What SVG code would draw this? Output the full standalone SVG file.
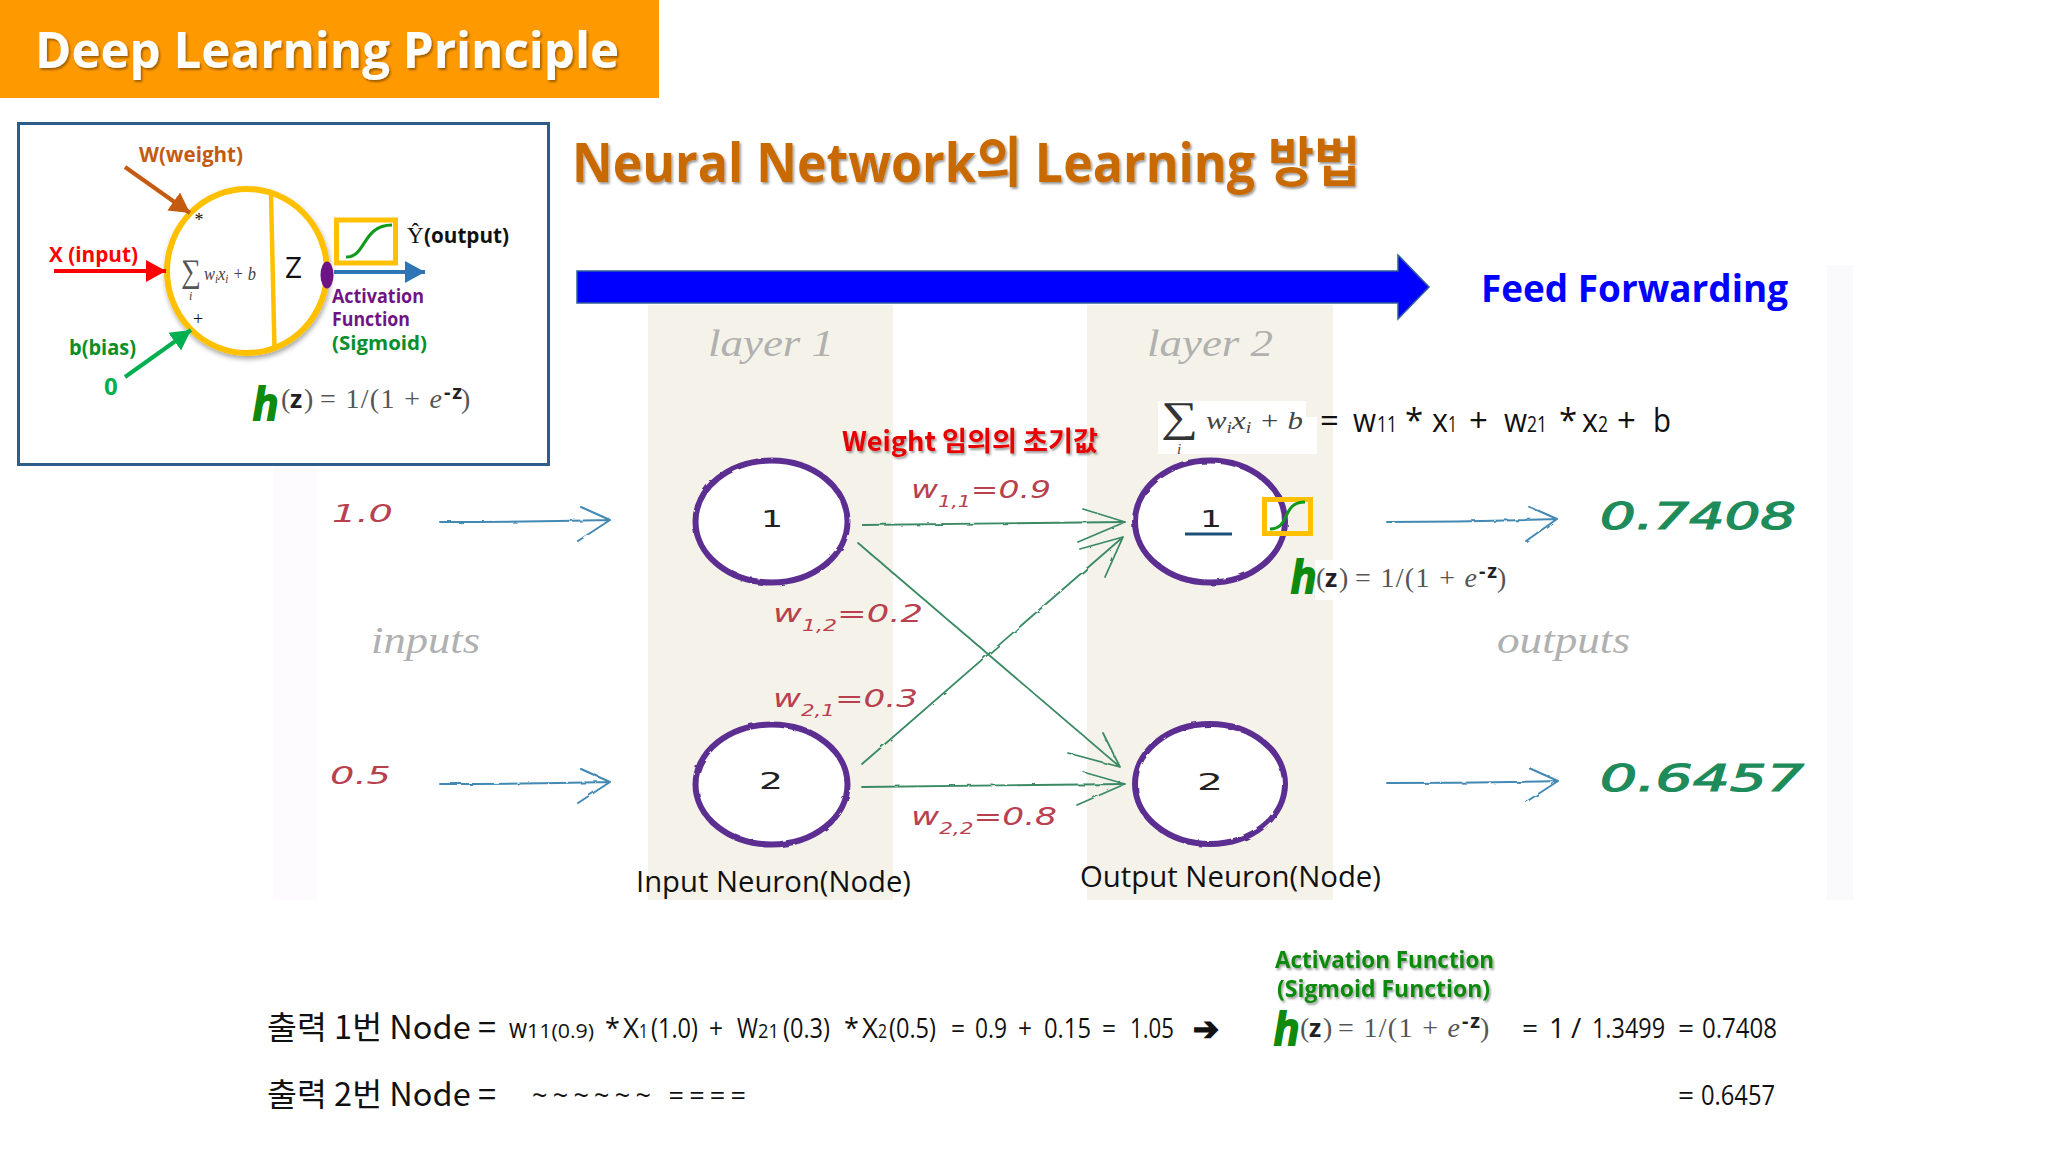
<svg xmlns="http://www.w3.org/2000/svg" width="2048" height="1152" viewBox="0 0 2048 1152">
<style>
text{font-family:"Open Sans","Noto Sans CJK KR",sans-serif;white-space:pre}
.k{font-family:"Noto Sans CJK KR","Open Sans",sans-serif}
.b{font-weight:700}
.hw{font-family:"Liberation Serif",serif;font-style:italic;fill:#b0b0b0;font-size:38px}
.wt{font-family:"DejaVu Sans",sans-serif;font-style:oblique;fill:#b8404f;font-size:24px}
.out{font-family:"DejaVu Sans",sans-serif;font-style:oblique;fill:#1e8b5a;stroke:#1e8b5a;stroke-width:1.2;font-size:38px}
.m{font-family:"Liberation Serif",serif;fill:#555}
.mi{font-family:"Liberation Serif",serif;font-style:italic;fill:#444}
.n{fill:#fff;stroke:#5b2f91;stroke-width:6}
.nl{font-family:"DejaVu Sans",sans-serif;font-size:23px;fill:#222}
.g{fill:none;stroke:#3a8a63;stroke-width:1.8;stroke-linecap:round;stroke-linejoin:round}
.bl{fill:none;stroke:#4389b3;stroke-width:2;stroke-linecap:round;stroke-linejoin:round}
.yb{fill:none;stroke:#ffc000;stroke-width:5}
.sg{fill:none;stroke:#0e9a1a;stroke-width:3}
.hh{font-family:"Liberation Sans",sans-serif;font-style:italic;font-weight:700;fill:#0e8a0e;stroke:#0e8a0e;stroke-width:2;font-size:46px}
.z{font-family:"Open Sans",sans-serif;font-weight:700;fill:#222}
.t{font-size:27px;fill:#111}
.s{font-size:20px;fill:#111}
</style>
<defs>
<filter id="sh" x="-5%" y="-10%" width="110%" height="130%"><feDropShadow dx="1.5" dy="2" stdDeviation="1.2" flood-color="#000" flood-opacity=".4"/></filter>
<filter id="cs" x="-10%" y="-10%" width="120%" height="120%"><feDropShadow dx="1" dy="3" stdDeviation="2.5" flood-color="#000" flood-opacity=".35"/></filter>
<filter id="rough" x="-5%" y="-5%" width="110%" height="110%"><feTurbulence type="fractalNoise" baseFrequency=".09" numOctaves="2" seed="3"/><feDisplacementMap in="SourceGraphic" scale="2.5"/></filter>
<marker id="aw" markerUnits="userSpaceOnUse" markerWidth="22" markerHeight="24" refX="20" refY="11" orient="auto"><path d="M0 0L20 11L0 22z" fill="#c55a11"/></marker>
<marker id="ar" markerUnits="userSpaceOnUse" markerWidth="22" markerHeight="24" refX="20" refY="11" orient="auto"><path d="M0 0L20 11L0 22z" fill="#f00"/></marker>
<marker id="ag" markerUnits="userSpaceOnUse" markerWidth="22" markerHeight="24" refX="20" refY="11" orient="auto"><path d="M0 0L20 11L0 22z" fill="#00b050"/></marker>
<marker id="ab" markerUnits="userSpaceOnUse" markerWidth="22" markerHeight="24" refX="20" refY="11" orient="auto"><path d="M0 0L20 11L0 22z" fill="#2e75b6"/></marker>
</defs>
<rect width="2048" height="1152" fill="#fff"/>
<g id="panel">
<rect x="273" y="265" width="44" height="635" fill="#fdfbfd"/>
<rect x="1827" y="265" width="26" height="635" fill="#fafafd"/>
<rect x="648" y="305" width="245" height="595" fill="#f5f3e9"/>
<rect x="1087" y="305" width="246" height="595" fill="#f5f3e9"/>
</g>
<g id="header">
<rect width="659" height="98" fill="#ff9900"/>
<text class="b" x="35" y="68" font-size="50" fill="#fff" textLength="584" lengthAdjust="spacingAndGlyphs" filter="url(#sh)">Deep Learning Principle</text>
</g>
<g id="perceptron">
<rect x="18.500" y="123.500" width="530" height="341" fill="#fff" stroke="#2f5d8a" stroke-width="3"/>
<ellipse cx="247" cy="271" rx="80" ry="82" fill="#fff" stroke="#ffc000" stroke-width="6" filter="url(#cs)"/>
<path d="M271 195L274.500 348" stroke="#ffc000" stroke-width="4.500" fill="none"/>
<text x="285" y="278" font-size="30" fill="#111" textLength="17" lengthAdjust="spacingAndGlyphs">Z</text>
<text class="m" x="199" y="226" font-size="18" text-anchor="middle" style="fill:#111">*</text>
<text class="m" x="198" y="325" font-size="18" text-anchor="middle" style="fill:#111">+</text>
<text class="m" x="181" y="282" font-size="33" textLength="20" lengthAdjust="spacingAndGlyphs">∑</text>
<text class="mi" x="189" y="300" font-size="12">i</text>
<text class="mi" x="204" y="280" font-size="18" textLength="52" lengthAdjust="spacingAndGlyphs">w<tspan font-size="12" dy="3">i</tspan><tspan dy="-3">x</tspan><tspan font-size="12" dy="3">i</tspan><tspan dy="-3"> + b</tspan></text>
<ellipse cx="327" cy="275" rx="6.500" ry="13.500" fill="#6f1484"/>
<rect class="yb" x="336.500" y="220" width="59" height="43"/>
<path class="sg" d="M346 257C366 258 362 225 392 225"/>
<text class="b" x="139" y="162" font-size="21" fill="#c55a11" textLength="104" lengthAdjust="spacingAndGlyphs">W(weight)</text>
<text class="b" x="49" y="262" font-size="21" fill="#f00" textLength="89" lengthAdjust="spacingAndGlyphs">X (input)</text>
<text class="b" x="69" y="355" font-size="21" fill="#0a8f2a" textLength="67" lengthAdjust="spacingAndGlyphs">b(bias)</text>
<text class="b" x="104" y="395" font-size="24" fill="#00b050">0</text>
<text class="m" x="407" y="243" font-size="23" style="fill:#111">Ŷ</text>
<text class="b" x="424" y="243" font-size="21" fill="#111" textLength="85" lengthAdjust="spacingAndGlyphs">(output)</text>
<text class="b" x="332" y="303" font-size="20" fill="#6f1484" textLength="92" lengthAdjust="spacingAndGlyphs">Activation</text>
<text class="b" x="332" y="326" font-size="20" fill="#6f1484" textLength="78" lengthAdjust="spacingAndGlyphs">Function</text>
<text class="b" x="332" y="350" font-size="20" fill="#0a8f2a" textLength="95" lengthAdjust="spacingAndGlyphs">(Sigmoid)</text>
<g transform="translate(253 408)">
<text class="hh" x="0" y="12" textLength="25" lengthAdjust="spacingAndGlyphs">h</text>
<text class="m" x="28" y="0" font-size="28">(</text>
<text class="z" x="37" y="0" font-size="25">z</text>
<text class="m" x="51" y="0" font-size="28">)</text>
<text class="m" x="67" y="0" font-size="28" textLength="122">= 1/(1 + <tspan font-style="italic">e</tspan></text>
<text class="z" x="191" y="-9" font-size="20" textLength="18">- z</text>
<text class="m" x="208" y="0" font-size="28">)</text>
</g>
</g>
<g id="title">
<text class="b" x="572" y="182" font-size="54" fill="#c96a00" textLength="788" lengthAdjust="spacingAndGlyphs" filter="url(#sh)">Neural Network의 Learning 방법</text>
</g>
<g id="feed-forward">
<path d="M577 271H1398V255L1429 287L1398 319V303H577z" fill="#00f" stroke="#2f5d9a" stroke-width="1.500"/>
<text class="b" x="1481" y="302" font-size="38" fill="#00f" textLength="307" lengthAdjust="spacingAndGlyphs">Feed Forwarding</text>
</g>
<g id="layer-labels">
<text class="hw" x="708" y="356" textLength="126" lengthAdjust="spacingAndGlyphs">layer 1</text>
<text class="hw" x="1147" y="356" textLength="126" lengthAdjust="spacingAndGlyphs">layer 2</text>
<text class="hw" x="371" y="653" textLength="109" lengthAdjust="spacingAndGlyphs">inputs</text>
<text class="hw" x="1497" y="653" textLength="133" lengthAdjust="spacingAndGlyphs">outputs</text>
<text class="wt" x="332" y="522" textLength="61" lengthAdjust="spacingAndGlyphs">1.0</text>
<text class="wt" x="330" y="784" textLength="61" lengthAdjust="spacingAndGlyphs">0.5</text>
</g>
<g id="connectors">
<g filter="url(#rough)">
<path class="bl" d="M440 522Q525 522 610 520M581 507L610 520L578 541"/>
<path class="bl" d="M440 784Q525 784 610 782M581 769L610 782L578 803"/>
<path class="bl" d="M1387 522Q1472 522 1557 519M1528 506L1557 519L1526 541"/>
<path class="bl" d="M1387 783Q1472 783 1558 781M1529 768L1558 781L1526 802"/>
<path class="g" d="M862 525Q1000 523 1125 522M1083 509L1125 522L1078 542"/>
<path class="g" d="M858 543L1120 767M1103 733L1120 767L1068 753"/>
<path class="g" d="M862 764L1123 537M1080 549L1123 537L1105 577"/>
<path class="g" d="M862 787Q1000 785 1125 784M1083 772L1125 784L1077 805"/>
</g>
<path d="M125 167L190 213" stroke="#c55a11" stroke-width="4" fill="none" marker-end="url(#aw)"/>
<path d="M54 271H166" stroke="#f00" stroke-width="4" fill="none" marker-end="url(#ar)"/>
<path d="M125 377L191 330" stroke="#00b050" stroke-width="4" fill="none" marker-end="url(#ag)"/>
<path d="M334 272H425" stroke="#2e75b6" stroke-width="4" fill="none" marker-end="url(#ab)"/>
</g>
<g id="input-1"><ellipse class="n" cx="771.500" cy="521.500" rx="76" ry="61" filter="url(#rough)"/><text class="nl" x="761" y="527" textLength="22" lengthAdjust="spacingAndGlyphs">1</text></g>
<g id="input-2"><ellipse class="n" cx="771.500" cy="784.500" rx="76" ry="60" filter="url(#rough)"/><text class="nl" x="759" y="789" textLength="24" lengthAdjust="spacingAndGlyphs">2</text></g>
<g id="output-1"><ellipse class="n" cx="1210" cy="521.500" rx="75" ry="61" filter="url(#rough)"/><text class="nl" x="1200" y="527" textLength="22" lengthAdjust="spacingAndGlyphs">1</text>
<path d="M1185 534H1232" stroke="#1f4e79" stroke-width="3"/>
<rect class="yb" x="1264.500" y="499.500" width="46" height="34"/>
<path class="sg" d="M1270 529C1291 529 1281 502 1305 502" stroke-width="2.500"/>
</g>
<g id="output-2"><ellipse class="n" cx="1210" cy="784" rx="75" ry="60" filter="url(#rough)"/><text class="nl" x="1197" y="790" textLength="26" lengthAdjust="spacingAndGlyphs">2</text></g>
<g id="weights">
<text class="k b" x="842" y="451" font-size="27" fill="#e60000" textLength="256" lengthAdjust="spacingAndGlyphs" filter="url(#sh)">Weight 임의의 초기값</text>
<text class="wt" x="911" y="498" textLength="140" lengthAdjust="spacingAndGlyphs">w<tspan font-size="15" dy="9">1,1</tspan><tspan dy="-9">=0.9</tspan></text>
<text class="wt" x="773" y="622" textLength="150" lengthAdjust="spacingAndGlyphs">w<tspan font-size="15" dy="9">1,2</tspan><tspan dy="-9">=0.2</tspan></text>
<text class="wt" x="773" y="707" textLength="145" lengthAdjust="spacingAndGlyphs">w<tspan font-size="15" dy="9">2,1</tspan><tspan dy="-9">=0.3</tspan></text>
<text class="wt" x="911" y="825" textLength="146" lengthAdjust="spacingAndGlyphs">w<tspan font-size="15" dy="9">2,2</tspan><tspan dy="-9">=0.8</tspan></text>
</g>
<g id="outputs">
<text class="out" x="1600" y="529" textLength="196" lengthAdjust="spacingAndGlyphs">0.7408</text>
<text class="out" x="1600" y="791" textLength="204" lengthAdjust="spacingAndGlyphs">0.6457</text>
</g>
<g id="sum-formula">
<rect x="1158" y="401" width="148" height="53" fill="#fff"/>
<rect x="1306" y="417" width="11" height="37" fill="#fff"/>
<text class="m" x="1161" y="431" font-size="42" textLength="37" lengthAdjust="spacingAndGlyphs" style="fill:#333">∑</text>
<text class="mi" x="1177" y="454" font-size="15">i</text>
<text class="mi" x="1206" y="429" font-size="25" textLength="97" lengthAdjust="spacingAndGlyphs">w<tspan font-size="16" dy="4">i</tspan><tspan dy="-4">x</tspan><tspan font-size="16" dy="4">i</tspan><tspan dy="-4"> + b</tspan></text>
<g font-size="33" fill="#111">
<text x="1320" y="432">=</text>
<text x="1353" y="432" textLength="23" lengthAdjust="spacingAndGlyphs">w</text>
<text x="1377" y="432" font-size="22" textLength="20" lengthAdjust="spacingAndGlyphs">11</text>
<text x="1405" y="432">*</text>
<text x="1432" y="432" textLength="16" lengthAdjust="spacingAndGlyphs">x</text>
<text x="1448" y="432" font-size="22" textLength="9" lengthAdjust="spacingAndGlyphs">1</text>
<text x="1469" y="432">+</text>
<text x="1504" y="432" textLength="23" lengthAdjust="spacingAndGlyphs">w</text>
<text x="1527" y="432" font-size="22" textLength="20" lengthAdjust="spacingAndGlyphs">21</text>
<text x="1559" y="432">*</text>
<text x="1582" y="432" textLength="16" lengthAdjust="spacingAndGlyphs">x</text>
<text x="1598" y="432" font-size="22" textLength="10" lengthAdjust="spacingAndGlyphs">2</text>
<text x="1617" y="432">+</text>
<text x="1653" y="432" textLength="18" lengthAdjust="spacingAndGlyphs">b</text>
</g>
</g>
<g id="node-formula">
<rect x="1315" y="560" width="192" height="40" fill="#fff" opacity=".8"/>
<g transform="translate(1291 587)">
<text class="hh" x="0" y="6" textLength="25" lengthAdjust="spacingAndGlyphs">h</text>
<text class="m" x="25" y="0" font-size="28">(</text>
<text class="z" x="34" y="0" font-size="25">z</text>
<text class="m" x="48" y="0" font-size="28">)</text>
<text class="m" x="64" y="0" font-size="28" textLength="122">= 1/(1 + <tspan font-style="italic">e</tspan></text>
<text class="z" x="188" y="-9" font-size="20" textLength="18">- z</text>
<text class="m" x="206" y="0" font-size="28">)</text>
</g>
</g>
<g id="captions">
<text x="636" y="892" font-size="30" fill="#111" textLength="275" lengthAdjust="spacingAndGlyphs">Input Neuron(Node)</text>
<text x="1080" y="887" font-size="30" fill="#111" textLength="301" lengthAdjust="spacingAndGlyphs">Output Neuron(Node)</text>
</g>
<g id="equations">
<text class="k" x="267" y="1039" font-size="32" fill="#111" textLength="229" lengthAdjust="spacingAndGlyphs">출력 1번 Node =</text>
<text class="t" x="509" y="1038" textLength="18" lengthAdjust="spacingAndGlyphs">w</text>
<text class="s" x="527" y="1038" textLength="67" lengthAdjust="spacingAndGlyphs">11(0.9)</text>
<text class="t" x="605" y="1038">*</text>
<text class="t" x="623" y="1038" textLength="16" lengthAdjust="spacingAndGlyphs">X</text>
<text class="s" x="639" y="1038" textLength="9" lengthAdjust="spacingAndGlyphs">1</text>
<text class="t" x="651" y="1038" textLength="47" lengthAdjust="spacingAndGlyphs">(1.0)</text>
<text class="t" x="709" y="1038" textLength="14" lengthAdjust="spacingAndGlyphs">+</text>
<text class="t" x="737" y="1038" textLength="21" lengthAdjust="spacingAndGlyphs">W</text>
<text class="s" x="758" y="1038" textLength="21" lengthAdjust="spacingAndGlyphs">21</text>
<text class="t" x="783" y="1038" textLength="47" lengthAdjust="spacingAndGlyphs">(0.3)</text>
<text class="t" x="844" y="1038">*</text>
<text class="t" x="862" y="1038" textLength="16" lengthAdjust="spacingAndGlyphs">X</text>
<text class="s" x="878" y="1038" textLength="9" lengthAdjust="spacingAndGlyphs">2</text>
<text class="t" x="889" y="1038" textLength="47" lengthAdjust="spacingAndGlyphs">(0.5)</text>
<text class="t" x="951" y="1038" textLength="14" lengthAdjust="spacingAndGlyphs">=</text>
<text class="t" x="975" y="1038" textLength="32" lengthAdjust="spacingAndGlyphs">0.9</text>
<text class="t" x="1018" y="1038" textLength="14" lengthAdjust="spacingAndGlyphs">+</text>
<text class="t" x="1044" y="1038" textLength="47" lengthAdjust="spacingAndGlyphs">0.15</text>
<text class="t" x="1102" y="1038" textLength="14" lengthAdjust="spacingAndGlyphs">=</text>
<text class="t" x="1130" y="1038" textLength="44" lengthAdjust="spacingAndGlyphs">1.05</text>
<text x="1193" y="1040" font-size="32" fill="#111" stroke="#111" stroke-width="1.500" style="font-family:'DejaVu Sans',sans-serif" textLength="26" lengthAdjust="spacingAndGlyphs">➔</text>
<text class="k" x="267" y="1106" font-size="32" fill="#111" textLength="229" lengthAdjust="spacingAndGlyphs">출력 2번 Node =</text>
<text x="532" y="1105" font-size="27" fill="#111" textLength="214" lengthAdjust="spacing">~~~~~~ ====</text>
<text class="b" x="1275" y="968" font-size="24" fill="#0e8a0e" textLength="219" lengthAdjust="spacingAndGlyphs" filter="url(#sh)">Activation Function</text>
<text class="b" x="1277" y="997" font-size="24" fill="#0e8a0e" textLength="213" lengthAdjust="spacingAndGlyphs" filter="url(#sh)">(Sigmoid Function)</text>
<g transform="translate(1274 1037)">
<text class="hh" x="0" y="8" textLength="25" lengthAdjust="spacingAndGlyphs">h</text>
<text class="m" x="26" y="0" font-size="28">(</text>
<text class="z" x="35" y="0" font-size="25">z</text>
<text class="m" x="49" y="0" font-size="28">)</text>
<text class="m" x="64" y="0" font-size="28" textLength="122">= 1/(1 + <tspan font-style="italic">e</tspan></text>
<text class="z" x="188" y="-9" font-size="20" textLength="18">- z</text>
<text class="m" x="206" y="0" font-size="28">)</text>
</g>
<g font-size="28" fill="#111">
<text x="1522" y="1038">=</text>
<text x="1549" y="1038">1</text>
<text x="1571" y="1038">/</text>
<text x="1592" y="1038" textLength="73" lengthAdjust="spacingAndGlyphs">1.3499</text>
<text x="1678" y="1038">=</text>
<text x="1702" y="1038" textLength="75" lengthAdjust="spacingAndGlyphs">0.7408</text>
<text x="1678" y="1105">=</text>
<text x="1701" y="1105" textLength="74" lengthAdjust="spacingAndGlyphs">0.6457</text>
</g>
</g>
</svg>
